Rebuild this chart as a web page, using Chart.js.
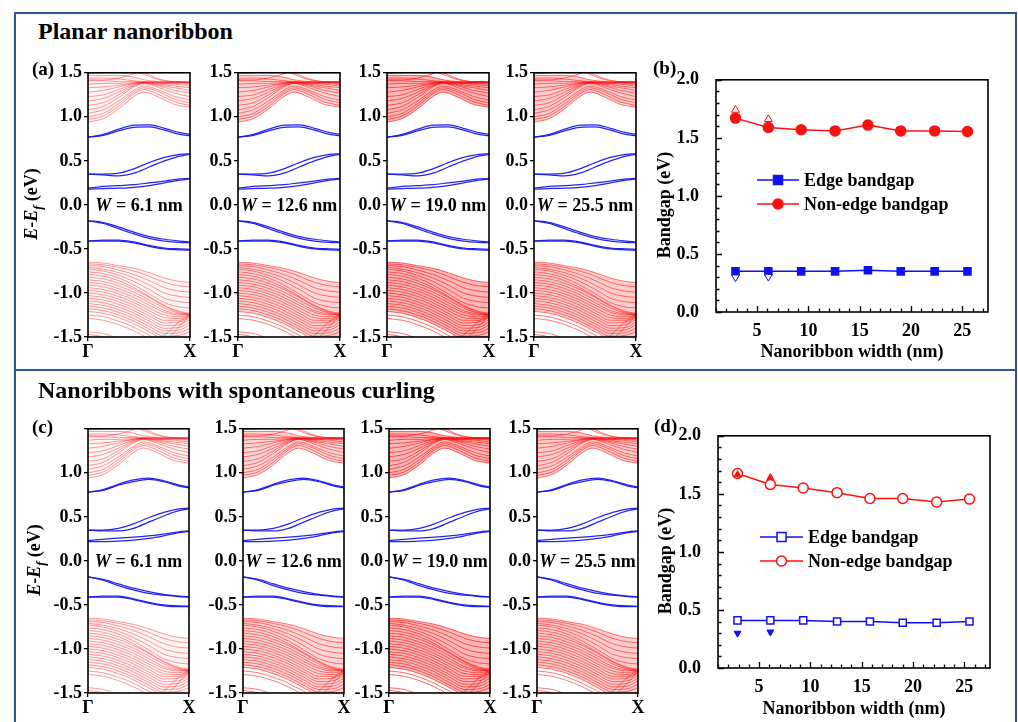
<!DOCTYPE html>
<html><head><meta charset="utf-8">
<script src="https://cdn.jsdelivr.net/npm/chart.js@4.4.1/dist/chart.umd.min.js"></script>
<style>
html,body{margin:0;padding:0;background:#fff;}
#root{position:relative;width:1018px;height:722px;overflow:hidden;font-family:'Liberation Serif','Times New Roman',serif;font-weight:bold;color:#000;background:#fff;}
canvas{position:absolute;}
.t{position:absolute;white-space:nowrap;line-height:1;}
.bar{position:absolute;background:#2f5597;}
svg{position:absolute;left:0;top:0;overflow:visible;}
</style></head>
<body><div id="root"></div>
<script>
// ---------------- DATA ----------------
const kCond = [0, 0.15, 0.3, 0.45, 0.55, 0.7, 0.85, 1];
const kVal  = [0, 0.15, 0.3, 0.45, 0.6, 0.75, 0.9, 1];
const kEdge = [0, 0.15, 0.3, 0.45, 0.6, 0.75, 0.9, 1];
const kLabels = ['Γ', 'X'];
const energyTicks = [-1.5, -1.0, -0.5, 0.0, 0.5, 1.0, 1.5];

const conductionBands = [
  [0.94, 0.98, 1.09, 1.23, 1.28, 1.22, 1.14, 1.11],
  [0.97, 1.01, 1.12, 1.26, 1.31, 1.25, 1.17, 1.13],
  [1.00, 1.04, 1.15, 1.28, 1.33, 1.28, 1.20, 1.16],
  [1.04, 1.08, 1.18, 1.30, 1.35, 1.30, 1.23, 1.19],
  [1.08, 1.12, 1.22, 1.34, 1.38, 1.33, 1.27, 1.23],
  [1.13, 1.16, 1.25, 1.35, 1.38, 1.35, 1.30, 1.27],
  [1.18, 1.21, 1.28, 1.36, 1.39, 1.36, 1.33, 1.30],
  [1.23, 1.25, 1.31, 1.37, 1.39, 1.37, 1.35, 1.33],
  [1.28, 1.30, 1.34, 1.38, 1.39, 1.38, 1.37, 1.35],
  [1.33, 1.34, 1.36, 1.38, 1.39, 1.38, 1.38, 1.37],
  [1.37, 1.38, 1.38, 1.39, 1.39, 1.39, 1.39, 1.38],
  [1.41, 1.41, 1.40, 1.40, 1.40, 1.40, 1.40, 1.39],
  [1.44, 1.44, 1.43, 1.41, 1.40, 1.39, 1.39, 1.39],
  [1.47, 1.47, 1.47, 1.45, 1.42, 1.40, 1.39, 1.39],
  [1.49, 1.50, 1.52, 1.52, 1.48, 1.42, 1.40, 1.40],
  [1.55, 1.55, 1.56, 1.54, 1.50, 1.43, 1.40, 1.40],
  [1.42, 1.42, 1.44, 1.49, 1.53, 1.60, 1.62, 1.62]
];

const valenceBands = [
  [-0.65, -0.66, -0.69, -0.72, -0.77, -0.83, -0.87, -0.88],
  [-0.67, -0.68, -0.71, -0.75, -0.81, -0.88, -0.92, -0.93],
  [-0.69, -0.70, -0.74, -0.79, -0.86, -0.94, -0.98, -0.99],
  [-0.71, -0.73, -0.77, -0.83, -0.91, -1.00, -1.04, -1.05],
  [-0.73, -0.75, -0.80, -0.87, -0.96, -1.06, -1.10, -1.11],
  [-0.76, -0.78, -0.83, -0.91, -1.01, -1.11, -1.16, -1.17],
  [-0.79, -0.81, -0.86, -0.94, -1.04, -1.14, -1.21, -1.23],
  [-0.82, -0.84, -0.89, -0.96, -1.05, -1.15, -1.22, -1.24],
  [-0.85, -0.87, -0.92, -0.99, -1.08, -1.17, -1.23, -1.24],
  [-0.88, -0.90, -0.95, -1.02, -1.11, -1.20, -1.24, -1.25],
  [-0.91, -0.93, -0.98, -1.05, -1.14, -1.22, -1.25, -1.24],
  [-0.94, -0.96, -1.01, -1.08, -1.17, -1.25, -1.27, -1.25],
  [-0.97, -0.99, -1.04, -1.11, -1.20, -1.28, -1.29, -1.26],
  [-1.00, -1.02, -1.07, -1.14, -1.23, -1.31, -1.31, -1.27],
  [-1.03, -1.05, -1.10, -1.17, -1.26, -1.34, -1.33, -1.28],
  [-1.06, -1.08, -1.13, -1.20, -1.29, -1.37, -1.36, -1.30],
  [-1.09, -1.11, -1.16, -1.23, -1.32, -1.40, -1.39, -1.33],
  [-1.12, -1.14, -1.19, -1.26, -1.35, -1.43, -1.42, -1.36],
  [-1.15, -1.17, -1.22, -1.29, -1.38, -1.46, -1.45, -1.40],
  [-1.18, -1.20, -1.25, -1.32, -1.41, -1.49, -1.48, -1.44],
  [-1.21, -1.23, -1.28, -1.35, -1.44, -1.52, -1.52, -1.50],
  [-1.25, -1.27, -1.32, -1.39, -1.48, -1.56, -1.58, -1.58],
  [-1.29, -1.31, -1.36, -1.43, -1.52, -1.60, -1.64, -1.64],
  [-1.44, -1.46, -1.52, -1.60, -1.70, -1.75, -1.75, -1.75],
  [-1.47, -1.50, -1.58, -1.66, -1.75, -1.80, -1.80, -1.80],
  [-1.75, -1.75, -1.72, -1.68, -1.60, -1.48, -1.32, -1.24],
  [-1.80, -1.80, -1.78, -1.74, -1.66, -1.55, -1.38, -1.25]
];

const planarEdgeBands = [
  [0.77, 0.80, 0.86, 0.905, 0.91, 0.87, 0.82, 0.80],
  [0.77, 0.79, 0.84, 0.88, 0.885, 0.85, 0.80, 0.785],
  [0.35, 0.35, 0.36, 0.41, 0.48, 0.54, 0.575, 0.58],
  [0.35, 0.34, 0.33, 0.36, 0.43, 0.50, 0.555, 0.575],
  [0.19, 0.21, 0.22, 0.23, 0.25, 0.27, 0.295, 0.30],
  [0.18, 0.185, 0.19, 0.20, 0.22, 0.25, 0.28, 0.295],
  [-0.18, -0.20, -0.25, -0.31, -0.36, -0.39, -0.41, -0.42],
  [-0.18, -0.21, -0.27, -0.33, -0.38, -0.41, -0.425, -0.43],
  [-0.41, -0.40, -0.40, -0.42, -0.46, -0.49, -0.50, -0.505],
  [-0.41, -0.41, -0.41, -0.43, -0.47, -0.50, -0.51, -0.515]
];

const curledEdgeBands = [
  [0.78, 0.81, 0.87, 0.92, 0.94, 0.91, 0.86, 0.84],
  [0.78, 0.80, 0.86, 0.90, 0.925, 0.90, 0.85, 0.83],
  [0.35, 0.35, 0.37, 0.42, 0.49, 0.55, 0.59, 0.60],
  [0.35, 0.34, 0.34, 0.37, 0.44, 0.51, 0.57, 0.59],
  [0.23, 0.245, 0.26, 0.27, 0.285, 0.305, 0.33, 0.34],
  [0.22, 0.22, 0.225, 0.235, 0.255, 0.285, 0.32, 0.335],
  [-0.18, -0.21, -0.26, -0.31, -0.35, -0.38, -0.40, -0.41],
  [-0.18, -0.22, -0.28, -0.33, -0.37, -0.39, -0.405, -0.41],
  [-0.41, -0.40, -0.40, -0.43, -0.47, -0.50, -0.51, -0.515],
  [-0.41, -0.41, -0.41, -0.44, -0.48, -0.51, -0.52, -0.52]
];

const ribbonLabels = ['6.1', '12.6', '19.0', '25.5'];

const ribbonWidths = [2.9, 6.1, 9.3, 12.6, 15.8, 19.0, 22.3, 25.5];
const planarEdgeGap = [0.35, 0.35, 0.35, 0.35, 0.36, 0.35, 0.35, 0.35];
const planarNonEdgeGap = [1.67, 1.59, 1.57, 1.56, 1.61, 1.56, 1.56, 1.555];
const refWidths = [2.9, 6.1];
const planarRefNonEdge = [1.74, 1.66];
const planarRefEdge = [0.30, 0.305];
const curledEdgeGap = [0.41, 0.41, 0.41, 0.40, 0.40, 0.39, 0.39, 0.40];
const curledNonEdgeGap = [1.675, 1.58, 1.55, 1.51, 1.46, 1.46, 1.43, 1.455];
const curledRefNonEdge = [1.665, 1.64];
const curledRefEdge = [0.30, 0.31];
const gapTicks = [0.0, 0.5, 1.0, 1.5, 2.0];
const widthTicks = [5, 10, 15, 20, 25];

// ---------------- SETUP ----------------
const FONT = "'Liberation Serif','Times New Roman',serif";
Chart.defaults.font.family = FONT;
Chart.defaults.font.weight = 'bold';
Chart.defaults.color = '#000';
Chart.defaults.animation = false;
const root = document.getElementById('root');

function addText(html, x, y, size, align) {
  const d = document.createElement('div');
  d.className = 't';
  d.innerHTML = html;
  d.style.fontSize = size + 'px';
  d.style.left = x + 'px';
  d.style.top = (y - size / 2) + 'px';
  if (align === 'c') d.style.transform = 'translateX(-50%)';
  root.appendChild(d);
  return d;
}
function addVText(html, cx, cy, size) {
  const d = document.createElement('div');
  d.className = 't';
  d.innerHTML = html;
  d.style.fontSize = size + 'px';
  d.style.left = cx + 'px';
  d.style.top = cy + 'px';
  d.style.transform = 'translate(-50%,-50%) rotate(-90deg)';
  root.appendChild(d);
}
function addCanvas(l, t, w, h) {
  const c = document.createElement('canvas');
  c.width = w; c.height = h;
  c.style.left = l + 'px'; c.style.top = t + 'px';
  c.style.width = w + 'px'; c.style.height = h + 'px';
  root.appendChild(c);
  return c;
}
function bar(l, t, w, h) {
  const d = document.createElement('div');
  d.className = 'bar';
  d.style.left = l + 'px'; d.style.top = t + 'px';
  d.style.width = w + 'px'; d.style.height = h + 'px';
  root.appendChild(d);
}

const framePlugin = {
  id: 'frame',
  afterDraw(chart) {
    const { ctx, chartArea: a } = chart;
    ctx.save();
    ctx.strokeStyle = '#000';
    ctx.lineWidth = 1.6;
    ctx.strokeRect(a.left, a.top, a.right - a.left, a.bottom - a.top);
    ctx.restore();
  }
};
const inwardTicks = {
  id: 'inwardTicks',
  afterDraw(chart) {
    const { ctx, chartArea: a, scales: { x, y } } = chart;
    ctx.save();
    ctx.strokeStyle = '#000';
    ctx.lineWidth = 1.3;
    ctx.beginPath();
    for (let v = Math.ceil(x.min); v <= x.max; v++) {
      const px = Math.round(x.getPixelForValue(v)) + 0.5;
      const len = v % 5 === 0 ? 6 : 3.5;
      ctx.moveTo(px, a.bottom); ctx.lineTo(px, a.bottom - len);
    }
    for (let i = 0; i <= 20; i++) {
      const py = Math.round(y.getPixelForValue(i / 10)) + 0.5;
      const len = i % 5 === 0 ? 6 : 3.5;
      ctx.moveTo(a.left, py); ctx.lineTo(a.left + len, py);
    }
    ctx.stroke();
    ctx.restore();
  }
};

function pts(ks, vals) { return ks.map((k, i) => ({ x: k, y: vals[i] })); }

function bandChart(L, T, W, H, edgeSet, redA, fillA, hideTop) {
  const pl = 62, pt = 12, pr = 12, pb = 34;
  const c = addCanvas(L - pl, T - pt, W + pl + pr, H + pt + pb);
  const base = { pointRadius: 0, cubicInterpolationMode: 'monotone', fill: false };
  const ds = [];
  edgeSet.forEach(b => ds.push(Object.assign({}, base, { data: pts(kEdge, b), borderColor: 'rgba(25,25,240,0.95)', borderWidth: 1.25 })));
  const cb0 = ds.length;
  conductionBands.forEach(b => ds.push(Object.assign({}, base, { data: pts(kCond, b), borderColor: `rgba(255,0,0,${redA})`, borderWidth: 0.8 })));
  const vb0 = ds.length;
  valenceBands.forEach(b => ds.push(Object.assign({}, base, { data: pts(kVal, b), borderColor: `rgba(255,0,0,${redA})`, borderWidth: 0.8 })));
  if (fillA > 0) {
    ds[cb0].fill = cb0 + 13; ds[cb0].backgroundColor = `rgba(255,0,0,${fillA})`;
    ds[vb0].fill = vb0 + 20; ds[vb0].backgroundColor = `rgba(255,0,0,${fillA})`;
  }
  const gridOpt = { display: true, drawOnChartArea: false, drawTicks: true, tickLength: 4, color: '#000', lineWidth: 1.3 };
  new Chart(c, {
    type: 'line',
    data: { datasets: ds },
    options: {
      responsive: false, devicePixelRatio: 1, events: [],
      layout: { padding: { top: pt, right: pr, left: 0, bottom: 0 } },
      plugins: { legend: { display: false }, tooltip: { enabled: false } },
      scales: {
        x: {
          type: 'linear', min: 0, max: 1,
          afterBuildTicks: s => { s.ticks = [{ value: 0 }, { value: 1 }]; },
          ticks: { callback: v => (v === 0 ? kLabels[0] : kLabels[1]), font: { size: 18, weight: 'bold' }, color: '#000', padding: 1, maxRotation: 0, autoSkip: false },
          grid: gridOpt, border: { display: false },
          afterFit: s => { s.height = pb; }
        },
        y: {
          type: 'linear', min: -1.5, max: 1.5,
          afterBuildTicks: s => { s.ticks = energyTicks.map(v => ({ value: v })); },
          ticks: { callback: v => (hideTop && v === 1.5 ? '' : v.toFixed(1)), font: { size: 18, weight: 'bold' }, color: '#000', padding: 2, autoSkip: false },
          grid: gridOpt, border: { display: false },
          afterFit: s => { s.width = pl; }
        }
      }
    },
    plugins: [framePlugin]
  });
}

function gapChart(L, T, R, B, edge, nonEdge, refEdge, refNonEdge, open) {
  const pl = 50, pt = 12, pr = 14, pb = 30;
  const c = addCanvas(L - pl, T - pt, (R - L) + pl + pr, (B - T) + pt + pb);
  const blue = '#1010f5', red = '#ff1010';
  const ds = [
    { data: pts(refWidths, refNonEdge), showLine: false, pointStyle: 'triangle', pointRadius: open ? 4 : 4.5,
      pointBackgroundColor: open ? red : '#fff', pointBorderColor: red, pointBorderWidth: 1 },
    { data: pts(refWidths, refEdge), showLine: false, pointStyle: 'triangle', pointRotation: 180, pointRadius: open ? 4 : 4.5,
      pointBackgroundColor: open ? blue : '#fff', pointBorderColor: blue, pointBorderWidth: 1 },
    { data: pts(ribbonWidths, edge), borderColor: blue, borderWidth: 1.5, pointStyle: 'rect', pointRadius: 5,
      pointBackgroundColor: open ? '#fff' : blue, pointBorderColor: blue, pointBorderWidth: 1.5 },
    { data: pts(ribbonWidths, nonEdge), borderColor: red, borderWidth: 1.5, pointStyle: 'circle', pointRadius: 5,
      pointBackgroundColor: open ? '#fff' : red, pointBorderColor: red, pointBorderWidth: 1.5 }
  ];
  ds.forEach(d => { d.fill = false; d.tension = 0; });
  new Chart(c, {
    type: 'line',
    data: { datasets: ds },
    options: {
      responsive: false, devicePixelRatio: 1, events: [],
      layout: { padding: { top: pt, right: pr, left: 0, bottom: 0 } },
      plugins: { legend: { display: false }, tooltip: { enabled: false } },
      scales: {
        x: {
          type: 'linear', min: 1, max: 27.5,
          afterBuildTicks: s => { s.ticks = widthTicks.map(v => ({ value: v })); },
          ticks: { font: { size: 18, weight: 'bold' }, color: '#000', padding: 1, maxRotation: 0, autoSkip: false },
          grid: { display: false }, border: { display: false },
          afterFit: s => { s.height = pb; }
        },
        y: {
          type: 'linear', min: 0, max: 2,
          afterBuildTicks: s => { s.ticks = gapTicks.map(v => ({ value: v })); },
          ticks: { callback: v => v.toFixed(1), font: { size: 18, weight: 'bold' }, color: '#000', padding: 9, autoSkip: false },
          grid: { display: false }, border: { display: false },
          afterFit: s => { s.width = pl; }
        }
      }
    },
    plugins: [framePlugin, inwardTicks]
  });
}

function legend(x1, x2, y1, y2, tx, open) {
  const ns = 'http://www.w3.org/2000/svg';
  const svg = document.createElementNS(ns, 'svg');
  svg.setAttribute('width', '1018'); svg.setAttribute('height', '722');
  const blue = '#1010f5', red = '#ff1010';
  const mid = (x1 + x2) / 2;
  [[y1, blue, 'rect'], [y2, red, 'circle']].forEach(([y, col, shape]) => {
    const l = document.createElementNS(ns, 'line');
    l.setAttribute('x1', x1); l.setAttribute('x2', x2); l.setAttribute('y1', y); l.setAttribute('y2', y);
    l.setAttribute('stroke', col); l.setAttribute('stroke-width', '1.5');
    svg.appendChild(l);
    let m;
    if (shape === 'rect') {
      m = document.createElementNS(ns, 'rect');
      m.setAttribute('x', mid - 4.5); m.setAttribute('y', y - 4.5); m.setAttribute('width', 9); m.setAttribute('height', 9);
    } else {
      m = document.createElementNS(ns, 'circle');
      m.setAttribute('cx', mid); m.setAttribute('cy', y); m.setAttribute('r', 5);
    }
    m.setAttribute('fill', open ? '#fff' : col); m.setAttribute('stroke', col); m.setAttribute('stroke-width', '1.5');
    svg.appendChild(m);
  });
  root.appendChild(svg);
  addText('Edge bandgap', tx, y1, 18);
  addText('Non-edge bandgap', tx, y2, 18);
}

// ---------------- FRAMES ----------------
bar(13.5, 12, 1003, 2);
bar(13.5, 12, 2, 720);
bar(1014.5, 12, 2, 720);
bar(13.5, 368.5, 1003, 2);

// ---------------- TOP ROW (planar) ----------------
addText('Planar nanoribbon', 38, 31, 24);
const topL = [88, 238, 387, 534];
const redAlpha = [0.5, 0.65, 0.75, 0.65];
const fillAlpha = [0.04, 0.16, 0.28, 0.2];
topL.forEach((L, i) => {
  bandChart(L, 72, 102, 265, planarEdgeBands, redAlpha[i], fillAlpha[i], false);
  addText('<i>W</i> = ' + ribbonLabels[i] + ' nm', L + 51, 205, 18, 'c');
});
addText('(a)', 32, 68, 19);
addVText('<i>E</i>-<i>E</i><sub style="font-size:0.7em"><i>f</i></sub> (eV)', 33, 204, 18);

gapChart(716, 72, 988, 312, planarEdgeGap, planarNonEdgeGap, planarRefEdge, planarRefNonEdge, false);
addText('(b)', 653, 67, 19);
addVText('Bandgap (eV)', 664, 205, 18);
addText('Nanoribbon width (nm)', 852, 351, 18, 'c');
legend(757, 799, 180, 204, 804, false);

// ---------------- BOTTOM ROW (curled) ----------------
addText('Nanoribbons with spontaneous curling', 38, 390, 24);
const botL = [88, 243, 389, 537];
botL.forEach((L, i) => {
  bandChart(L, 428, 101, 265, curledEdgeBands, redAlpha[i], fillAlpha[i], i === 0);
  addText('<i>W</i> = ' + ribbonLabels[i] + ' nm', L + 50.5, 561, 18, 'c');
});
addText('(c)', 32, 426, 19);
addVText('<i>E</i>-<i>E</i><sub style="font-size:0.7em"><i>f</i></sub> (eV)', 36, 560, 18);

gapChart(718, 428, 990, 668, curledEdgeGap, curledNonEdgeGap, curledRefEdge, curledRefNonEdge, true);
addText('(d)', 654, 425, 19);
addVText('Bandgap (eV)', 665, 561, 18);
addText('Nanoribbon width (nm)', 854, 708, 18, 'c');
legend(760, 803, 537, 561, 808, true);
</script>
</body></html>
